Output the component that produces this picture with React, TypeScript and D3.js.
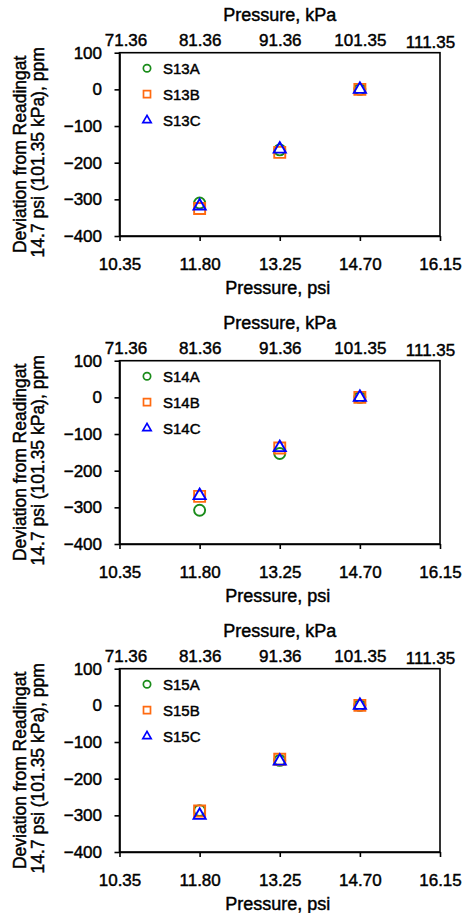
import React, { useEffect, useRef } from "react";
import * as d3 from "d3";

// Pressure points (psi) at which each sensor was read
const pressurePsi = [11.8, 13.25, 14.7];

// Axis tick values
const psiTicks = [10.35, 11.8, 13.25, 14.7, 16.15];
const kpaTicks = [71.36, 81.36, 91.36, 101.35, 111.35];
const deviationTicks = [100, 0, -100, -200, -300, -400];

// Deviation from the reading at 14.7 psi, ppm
const s13Names = ["S13A", "S13B", "S13C"];
const s13A = [-310, -165, 0];
const s13B = [-325, -172, 0];
const s13C = [-318, -163, 0];

const s14Names = ["S14A", "S14B", "S14C"];
const s14A = [-308, -153, 0];
const s14B = [-270, -138, 0];
const s14C = [-268, -137, 0];

const s15Names = ["S15A", "S15B", "S15C"];
const s15A = [-287, -150, 0];
const s15B = [-288, -147, 0];
const s15C = [-300, -152, 0];

const panels = [
  { names: s13Names, series: [s13A, s13B, s13C] },
  { names: s14Names, series: [s14A, s14B, s14C] },
  { names: s15Names, series: [s15A, s15B, s15C] },
];

const W = 463;
const H = 913;
const PANEL_STEP = 308;
const PLOT = { left: 119.5, right: 440, top: 52.7, bottom: 236 };
const FONT = "'Liberation Sans', Arial, Helvetica, sans-serif";
const TEXT_STROKE = 0.45;
const COLORS = ["#1a8c1a", "#ff6a10", "#0000ff"];
const SYMBOLS = [d3.symbolCircle, d3.symbolSquare, d3.symbolTriangle];
const MARK_SIZE = [95, 121, 64];
const LEGEND_SIZE = [42, 49, 30];

export default function App() {
  const ref = useRef<SVGSVGElement | null>(null);

  useEffect(() => {
    const svg = d3.select(ref.current);
    svg.selectAll("*").remove();

    const x = d3.scaleLinear().domain([10.35, 16.15]).range([PLOT.left, PLOT.right]);
    const xk = d3.scaleLinear().domain([71.36, 111.35]).range([PLOT.left, PLOT.right]);
    const y = d3.scaleLinear().domain([-400, 100]).range([PLOT.bottom, PLOT.top]);
    const midX = (PLOT.left + PLOT.right) / 2;
    const midY = (PLOT.top + PLOT.bottom) / 2;

    const styleText = (sel: any, size: number) =>
      sel
        .attr("font-family", FONT)
        .attr("font-size", size)
        .attr("fill", "#000")
        .attr("stroke", "#000")
        .attr("stroke-width", TEXT_STROKE);

    panels.forEach((panel, pi) => {
      const g = svg.append("g").attr("transform", `translate(0,${pi * PANEL_STEP})`);

      // Frame
      g.append("rect")
        .attr("x", PLOT.left)
        .attr("y", PLOT.top)
        .attr("width", PLOT.right - PLOT.left)
        .attr("height", PLOT.bottom - PLOT.top)
        .attr("fill", "none")
        .attr("stroke", "#000")
        .attr("stroke-width", 1.6);

      // Bottom axis (psi)
      const bottom = g.append("g")
        .attr("transform", `translate(0,${PLOT.bottom})`)
        .call(
          d3.axisBottom(x)
            .tickValues(psiTicks)
            .tickFormat(d3.format(".2f"))
            .tickSizeInner(5)
            .tickSizeOuter(0)
            .tickPadding(17)
        );

      // Left axis (ppm)
      const left = g.append("g")
        .attr("transform", `translate(${PLOT.left},0)`)
        .call(
          d3.axisLeft(y)
            .tickValues(deviationTicks)
            .tickFormat(d3.format("d"))
            .tickSizeInner(5)
            .tickSizeOuter(0)
            .tickPadding(12.5)
        );

      // Top axis (kPa), labels only
      const top = g.append("g")
        .attr("transform", `translate(0,${PLOT.top})`)
        .call(
          d3.axisTop(xk)
            .tickValues(kpaTicks)
            .tickFormat(d3.format(".2f"))
            .tickSize(0)
            .tickPadding(7)
        );
      top.select(".domain").remove();
      // keep the outer labels inside the page
      const topLabels = top.selectAll(".tick text");
      const n = topLabels.size();
      topLabels
        .attr("dx", (_d: any, i: number) => (i === 0 ? 6 : i === n - 1 ? -10 : 0))
        .attr("dy", (_d: any, i: number) => (i === n - 1 ? 2 : 0));

      [bottom, left, top].forEach((a) => {
        a.select(".domain").attr("stroke-width", 1.6);
        a.selectAll(".tick line").attr("stroke-width", 1.6);
        styleText(a.selectAll("text"), 17);
      });

      // Axis titles
      styleText(
        g.append("text")
          .attr("x", midX)
          .attr("y", 21)
          .attr("text-anchor", "middle")
          .text("Pressure, kPa"),
        18
      );
      styleText(
        g.append("text")
          .attr("x", midX - 2)
          .attr("y", 294)
          .attr("text-anchor", "middle")
          .text("Pressure, psi"),
        18
      );

      const yTitle = styleText(
        g.append("text")
          .attr("transform", `translate(0,${midY + 10}) rotate(-90)`)
          .attr("text-anchor", "middle"),
        17.5
      );
      yTitle.append("tspan").attr("x", 0).attr("y", 26).text("Deviation from Readingat");
      yTitle.append("tspan").attr("x", 2).attr("y", 44).text("14.7 psi (101.35 kPa), ppm");

      // Markers
      panel.series.forEach((vals, si) => {
        const sym = d3.symbol().type(SYMBOLS[si]).size(MARK_SIZE[si]);
        g.append("g")
          .selectAll("path")
          .data(vals)
          .join("path")
          .attr("d", sym() as string)
          .attr("transform", (d, i) => `translate(${x(pressurePsi[i])},${y(d)})`)
          .attr("fill", "none")
          .attr("stroke", COLORS[si])
          .attr("stroke-width", 1.9);
      });

      // Legend
      panel.names.forEach((name, si) => {
        const ly = PLOT.top + 15.5 + si * 26;
        const sym = d3.symbol().type(SYMBOLS[si]).size(LEGEND_SIZE[si]);
        g.append("path")
          .attr("d", sym() as string)
          .attr("transform", `translate(147,${ly})`)
          .attr("fill", "none")
          .attr("stroke", COLORS[si])
          .attr("stroke-width", 1.7);
        styleText(
          g.append("text")
            .attr("x", 163)
            .attr("y", ly + 5.5)
            .text(name),
          15
        );
      });
    });
  }, []);

  return (
    <svg
      ref={ref}
      width={W}
      height={H}
      viewBox={`0 0 ${W} ${H}`}
      style={{ position: "absolute", left: 0, top: 0, background: "#fff" }}
    />
  );
}
